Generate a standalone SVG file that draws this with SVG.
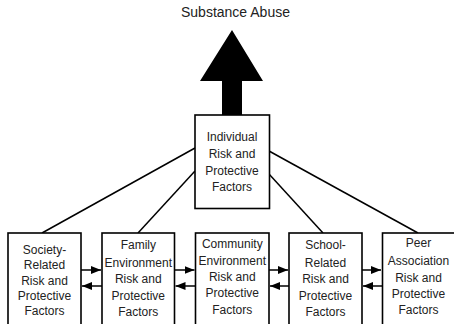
<svg xmlns="http://www.w3.org/2000/svg" width="454" height="324" viewBox="0 0 454 324">
<defs>
<style>
.box{fill:#fff;stroke:#000;stroke-width:1.6}
.t{font-family:"Liberation Sans",Arial,sans-serif;font-size:12px;fill:#222;text-anchor:middle}
.title{font-family:"Liberation Sans",Arial,sans-serif;font-size:14px;fill:#222;text-anchor:middle}
.ln{stroke:#000;stroke-width:1.5;fill:none}
</style>
<marker id="ah" viewBox="0 0 10 8" refX="10" refY="4" markerWidth="10" markerHeight="8" markerUnits="userSpaceOnUse" orient="auto">
<path d="M0,0 L10,4 L0,8 Z" fill="#000"/>
</marker>
</defs>
<rect width="454" height="324" fill="#fff"/>
<g id="substance-abuse">
<text class="title" x="235.5" y="17">Substance Abuse</text>
<polygon points="232,30 263,81 242,81 242,115 222,115 222,81 200,81" fill="#000"/>
</g>
<g id="connectors">
<line class="ln" x1="42" y1="233" x2="195" y2="148"/>
<line class="ln" x1="138" y1="233" x2="195" y2="171"/>
<line class="ln" x1="323" y1="233" x2="269" y2="174"/>
<line class="ln" x1="418" y1="233" x2="269" y2="151"/>
<line class="ln" x1="81" y1="270" x2="101" y2="270" marker-end="url(#ah)"/>
<line class="ln" x1="102" y1="286" x2="82" y2="286" marker-end="url(#ah)"/>
<line class="ln" x1="174.5" y1="270" x2="194.5" y2="270" marker-end="url(#ah)"/>
<line class="ln" x1="195.5" y1="286" x2="175.5" y2="286" marker-end="url(#ah)"/>
<line class="ln" x1="269" y1="270" x2="288" y2="270" marker-end="url(#ah)"/>
<line class="ln" x1="289" y1="286" x2="270" y2="286" marker-end="url(#ah)"/>
<line class="ln" x1="362" y1="270" x2="381" y2="270" marker-end="url(#ah)"/>
<line class="ln" x1="382" y1="286" x2="363" y2="286" marker-end="url(#ah)"/>
</g>
<g id="individual">
<rect class="box" x="195" y="115" width="74.5" height="93.5"/>
<text class="t" x="232" y="141">Individual</text>
<text class="t" x="232" y="158">Risk and</text>
<text class="t" x="232" y="175">Protective</text>
<text class="t" x="232" y="191">Factors</text>
</g>
<g id="society">
<rect class="box" x="8" y="233" width="73" height="100"/>
<text class="t" x="44.5" y="254">Society-</text>
<text class="t" x="44.5" y="269">Related</text>
<text class="t" x="44.5" y="284.5">Risk and</text>
<text class="t" x="44.5" y="300">Protective</text>
<text class="t" x="44.5" y="315">Factors</text>
</g>
<g id="family">
<rect class="box" x="102" y="233" width="72.5" height="100"/>
<text class="t" x="138.3" y="249">Family</text>
<text class="t" x="138.3" y="267">Environment</text>
<text class="t" x="138.3" y="283">Risk and</text>
<text class="t" x="138.3" y="300">Protective</text>
<text class="t" x="138.3" y="316">Factors</text>
</g>
<g id="community">
<rect class="box" x="195.5" y="233" width="73.5" height="100"/>
<text class="t" x="232.3" y="248">Community</text>
<text class="t" x="232.3" y="265">Environment</text>
<text class="t" x="232.3" y="281">Risk and</text>
<text class="t" x="232.3" y="297">Protective</text>
<text class="t" x="232.3" y="314">Factors</text>
</g>
<g id="school">
<rect class="box" x="289" y="233" width="73" height="100"/>
<text class="t" x="325.5" y="249">School-</text>
<text class="t" x="325.5" y="266.5">Related</text>
<text class="t" x="325.5" y="283">Risk and</text>
<text class="t" x="325.5" y="300">Protective</text>
<text class="t" x="325.5" y="315.5">Factors</text>
</g>
<g id="peer">
<rect class="box" x="382.5" y="233" width="73" height="100"/>
<text class="t" x="418.5" y="247">Peer</text>
<text class="t" x="418.5" y="265">Association</text>
<text class="t" x="418.5" y="282">Risk and</text>
<text class="t" x="418.5" y="298">Protective</text>
<text class="t" x="418.5" y="314">Factors</text>
</g>
</svg>
